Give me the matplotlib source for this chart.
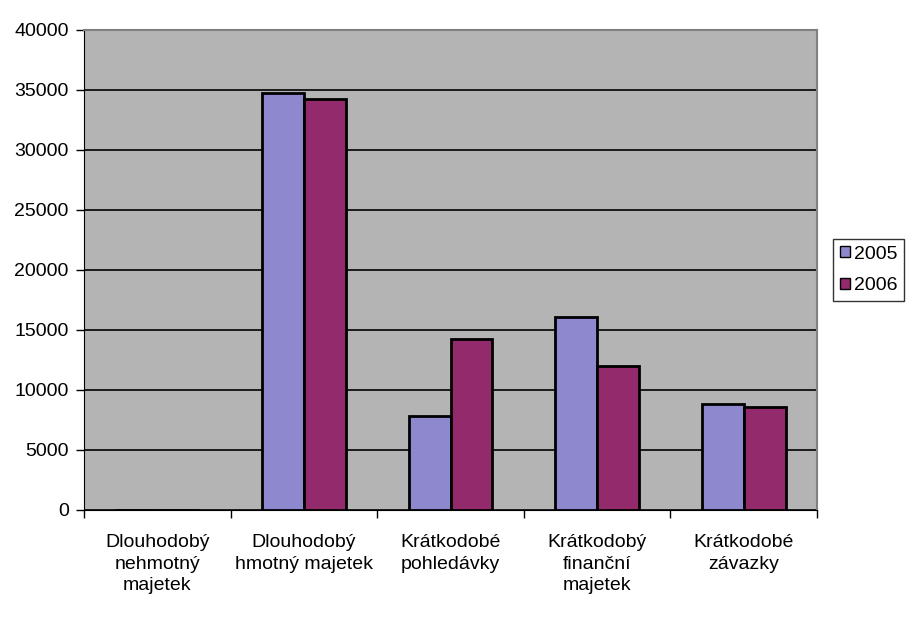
import numpy as np
import matplotlib.pyplot as plt
from matplotlib.ticker import FixedLocator, NullFormatter

categories = ["Dlouhodobý\nnehmotný\nmajetek", "Dlouhodobý\nhmotný majetek",
              "Krátkodobé\npohledávky", "Krátkodobý\nfinanční\nmajetek",
              "Krátkodobé\nzávazky"]
v2005 = [0, 34780, 7830, 16100, 8830]
v2006 = [0, 34250, 14250, 12000, 8580]
years = ["2005", "2006"]

plt.rcParams['font.family'] = ['Liberation Sans', 'DejaVu Sans']

fig = plt.figure(figsize=(9.08, 6.21), dpi=100)
ax = fig.add_axes([84 / 908, 111 / 621, 733 / 908, 480 / 621])
ax.set_facecolor('#b4b4b4')

x = np.arange(len(categories))
w = 1 / 3.5
ax.bar(x - w / 2, v2005, w, color='#8e89cf', edgecolor='black', linewidth=2, label=years[0], zorder=3)
ax.bar(x + w / 2, v2006, w, color='#932a6b', edgecolor='black', linewidth=2, label=years[1], zorder=3)

ax.set_xlim(-0.5, len(categories) - 0.5)
ax.set_ylim(0, 40000)
ax.set_yticks(np.arange(0, 40001, 5000))
ax.yaxis.grid(True, color='black', linewidth=1.2, zorder=1)
ax.set_axisbelow(True)

ax.set_xticks(x)
ax.set_xticklabels(categories, fontsize=14, linespacing=1.38)
ax.tick_params(axis='x', length=0, pad=17)
ax.xaxis.set_minor_locator(FixedLocator(np.arange(-0.5, len(categories), 1)))
ax.xaxis.set_minor_formatter(NullFormatter())
ax.tick_params(axis='x', which='minor', length=6, width=1, direction='out')
ax.tick_params(axis='y', labelsize=14, length=6, width=1, direction='out', pad=5)

for s in ['top', 'right']:
    ax.spines[s].set_color('#808080')
    ax.spines[s].set_linewidth(1.5)
ax.spines['left'].set_color('black')
ax.spines['bottom'].set_color('black')

leg = ax.legend(loc='center left', bbox_to_anchor=(1.022, 0.5), fontsize=14,
                frameon=True, fancybox=False, edgecolor='black',
                handlelength=0.5, handleheight=0.5, handletextpad=0.2,
                borderpad=0.35, labelspacing=0.75, borderaxespad=0)
leg.get_frame().set_linewidth(1)
for h in leg.legend_handles:
    h.set_linewidth(1)

plt.savefig('out.png', dpi=100)
